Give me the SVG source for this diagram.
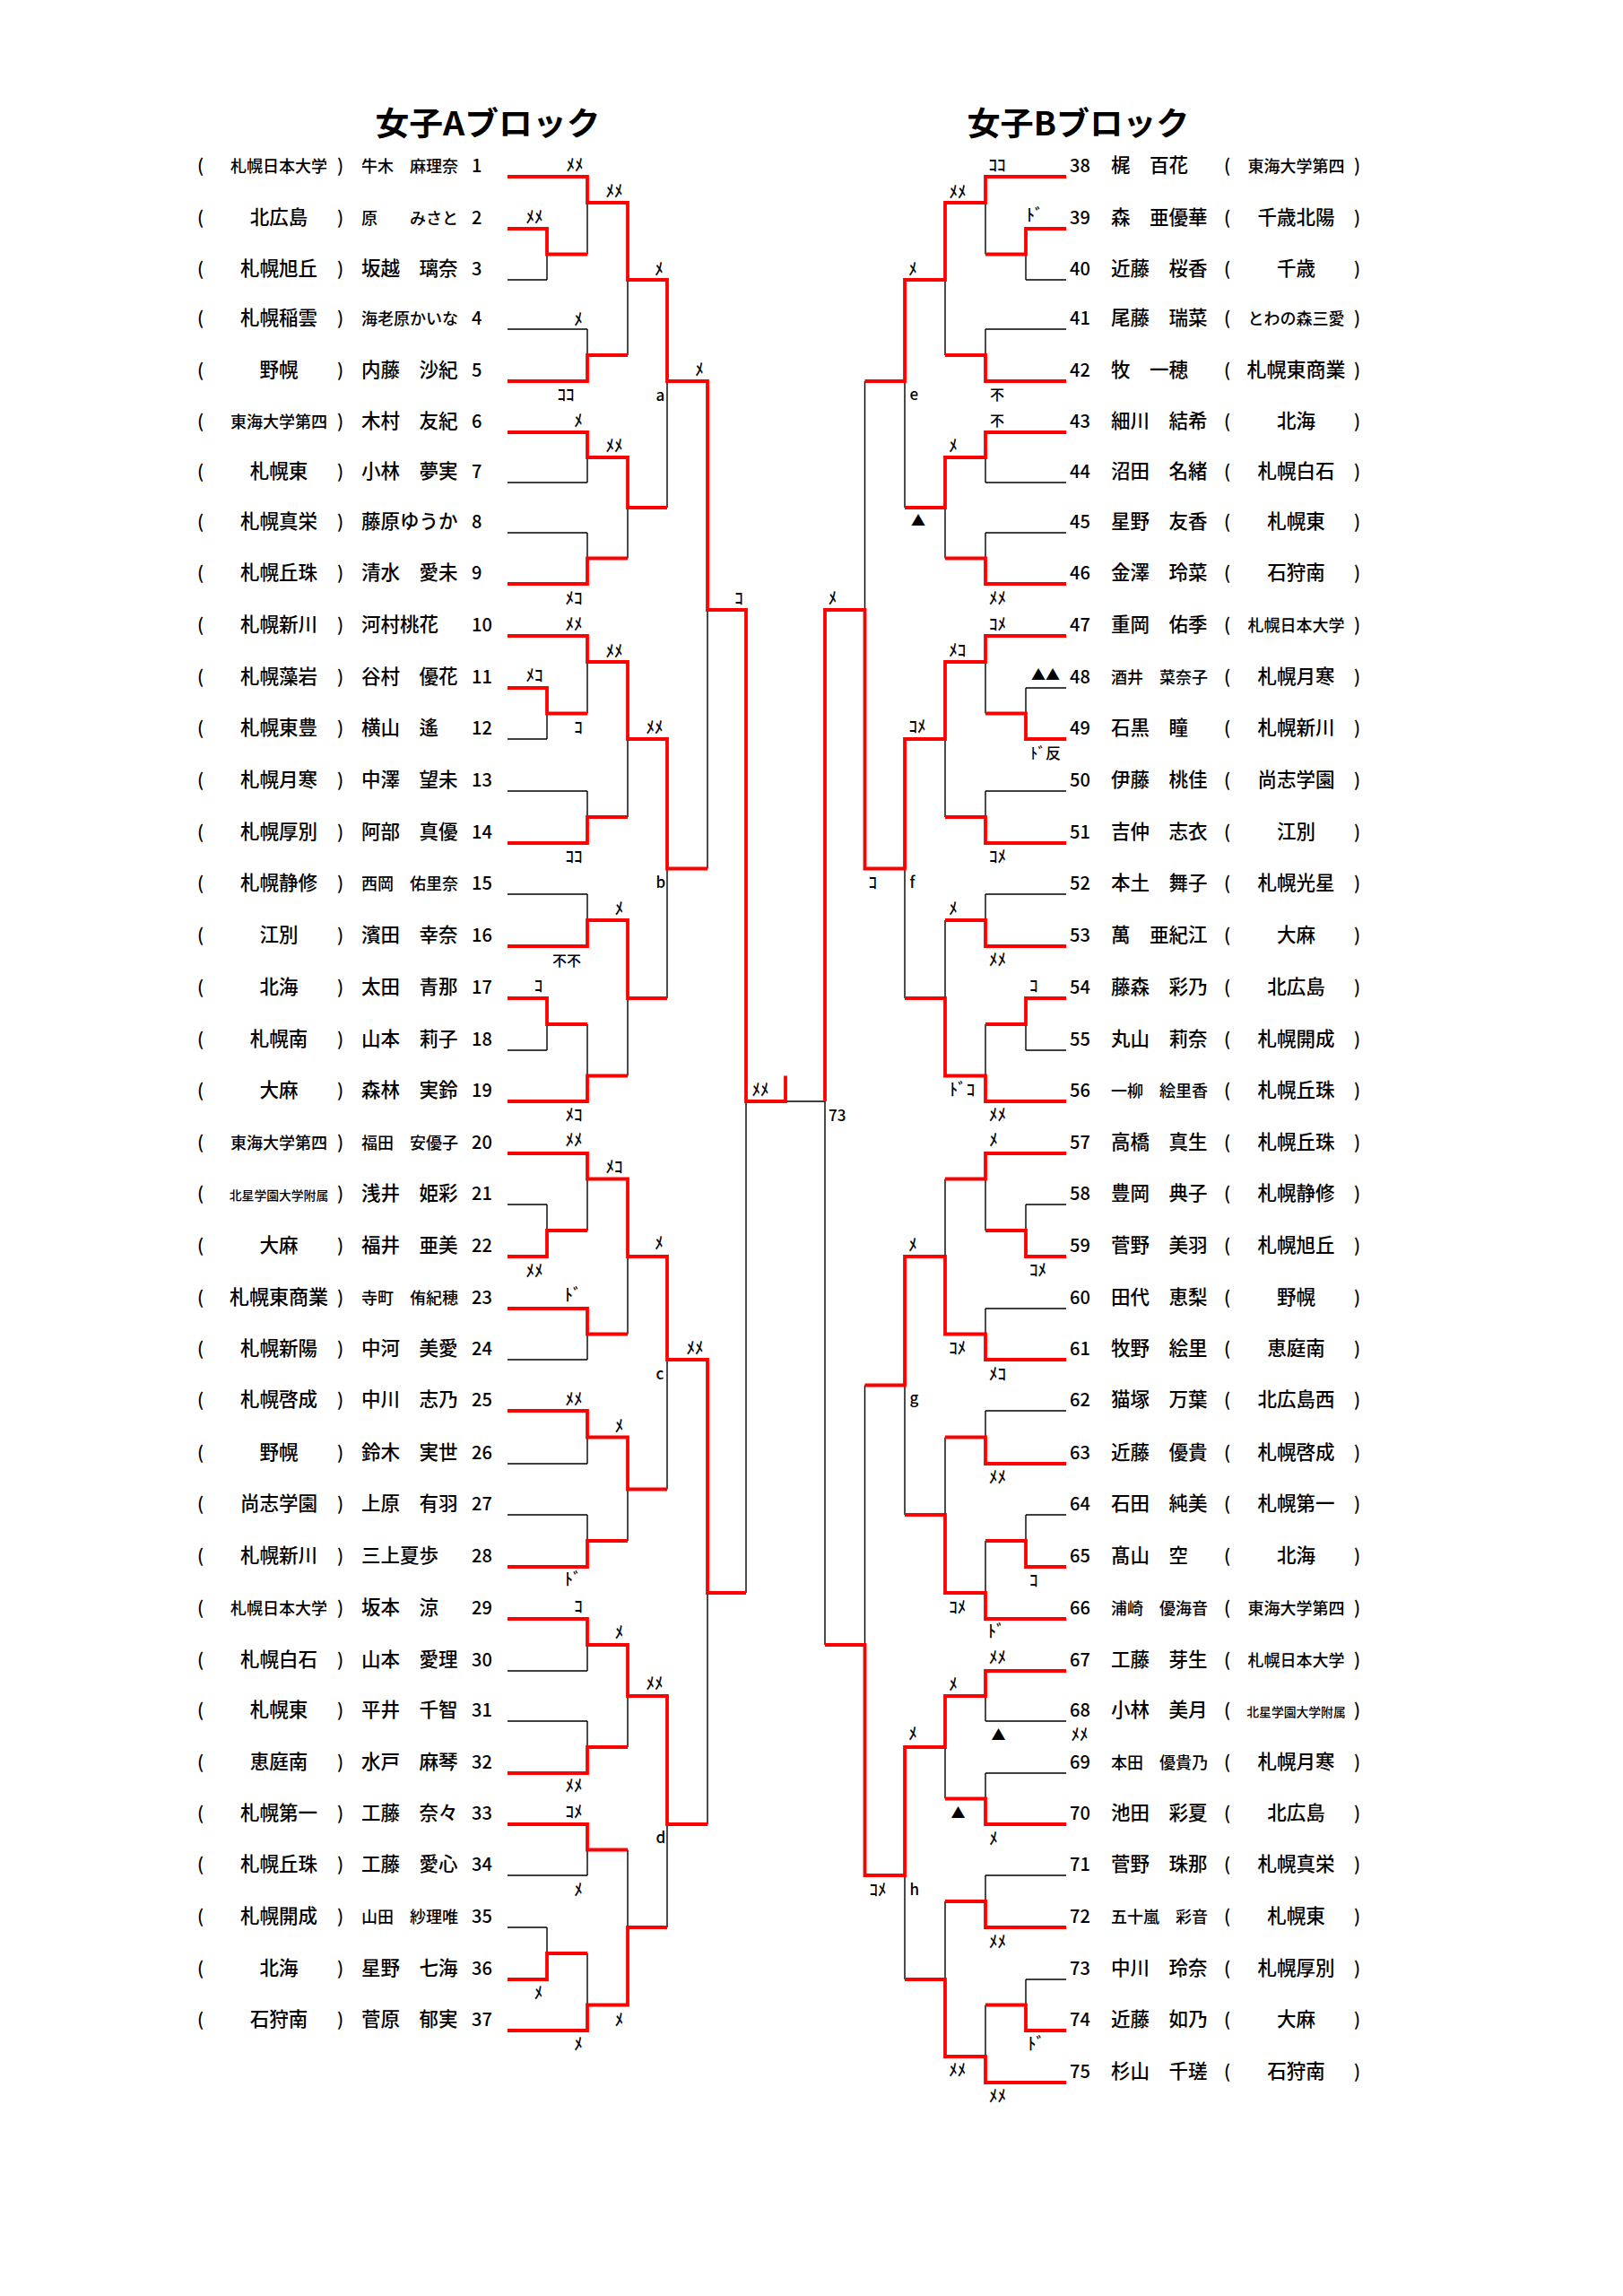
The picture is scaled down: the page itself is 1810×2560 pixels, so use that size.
<svg xmlns="http://www.w3.org/2000/svg" width="1810" height="2560" viewBox="0 0 1810 2560">
<style>
text{font-family:"Noto Sans CJK JP","Noto Sans CJK SC",sans-serif;font-size:21.5px;font-weight:500;fill:#000}
.b{font-size:18px}
.c{font-size:13.8px}
.d{font-size:22px}
.n,.p{font-size:20px}
.m{text-anchor:middle}
.l text{font-size:19px;text-anchor:middle}
.l text.s{font-size:16px}
.l text.s2{font-size:17px}
.lt text{font-size:17px}
.tt{font-size:36px;font-weight:700;text-anchor:middle}
.k{fill:none;stroke:#000;stroke-width:1.4}
.r{fill:none;stroke:#f00;stroke-width:3.8;stroke-linejoin:miter}
</style>
<rect width="1810" height="2560" fill="#fff"/>
<g id="titles">
<text class="tt" x="544" y="151" textLength="251" lengthAdjust="spacingAndGlyphs">女子Aブロック</text>
<text class="tt" x="1202.5" y="151" textLength="248" lengthAdjust="spacingAndGlyphs">女子Bブロック</text>
</g>
<g id="connectors">
<path class="k" d="M566 312H610M566 367H655M566 538H655M566 594H655M566 824H610M566 882H655M566 997H655M566 1171H610M566 1343H610M566 1516H655M566 1632H655M566 1689H655M566 1863H655M566 1919H655M566 2091H655M566 2149H610
M610 255V312M610 767V824M610 1113V1171M610 1343V1401M610 2149V2207
M655 197V283.5M655 367V425M655 482V538M655 594V651M655 709V795.5M655 882V940M655 997V1055M655 1142V1228M655 1286V1372M655 1459V1516M655 1573V1632M655 1689V1747M655 1805V1863M655 1919V1977M655 2034V2091M655 2178V2264
M700 226V396M700 510V622.5M700 738V911M700 1026V1199.5M700 1314.5V1487.5M700 1602.5V1718M700 1834V1948M700 2062.5V2235.5
M744 312V566M744 824V1113M744 1401V1660.5M744 1891V2149
M789 425V968.5M789 1516V2034
M832 680V1776M832 1228H920"/>
<path class="k" d="M1189 312H1144M1189 367H1099M1189 538H1099M1189 594H1099M1189 767H1144M1189 882H1099M1189 997H1099M1189 1171H1144M1189 1343H1144M1189 1459H1099M1189 1573H1099M1189 1689H1144M1189 1919H1099M1189 1977H1099M1189 2091H1099M1189 2207H1144
M1144 255V312M1144 767V824M1144 1113V1171M1144 1343V1401M1144 1689V1747M1144 2207V2264
M1099 197V283.5M1099 367V425M1099 482V538M1099 594V651M1099 709V795.5M1099 882V940M1099 997V1055M1099 1142V1228M1099 1286V1372M1099 1459V1516M1099 1573V1632M1099 1718V1805M1099 1863V1919M1099 1977V2034M1099 2091V2149M1099 2235.5V2322
M1054 226V396M1054 510V622.5M1054 738V911M1054 1026V1199.5M1054 1314.5V1487.5M1054 1602.5V1776M1054 1891V2005.5M1054 2120V2293
M1009 312V566M1009 824V1113M1009 1401V1689M1009 1948V2207
M964.5 425V968.5M964.5 1544.5V2091
M920 680V1834"/>
<path class="r" d="M566 197H655V226H700V312H744V425H789V680H832V1228H876V1199.5
M566 255H610V283.5H655
M566 425H655V396H700
M566 482H655V510H700V566H744
M566 651H655V622.5H700
M566 709H655V738H700V824H744V968.5H789
M566 767H610V795.5H655
M566 940H655V911H700
M566 1055H655V1026H700V1113H744
M566 1113H610V1142H655
M566 1228H655V1199.5H700
M566 1286H655V1314.5H700V1401H744V1516H789V1776H832
M566 1401H610V1372H655
M566 1459H655V1487.5H700
M566 1573H655V1602.5H700V1660.5H744
M566 1747H655V1718H700
M566 1805H655V1834H700V1891H744V2034H789
M566 1977H655V1948H700
M566 2034H655V2062.5H700
M566 2207H610V2178H655
M566 2264H655V2235.5H700V2149H744"/>
<path class="r" d="M1189 197H1099V226H1054V312H1009V425H964.5
M1189 255H1144V283.5H1099
M1189 425H1099V396H1054
M1189 482H1099V510H1054V566H1009
M1189 651H1099V622.5H1054
M1189 709H1099V738H1054V824H1009V968.5H964.5V680H920V1228
M1189 824H1144V795.5H1099
M1189 940H1099V911H1054
M1189 1055H1099V1026H1054
M1189 1113H1144V1142H1099
M1189 1228H1099V1199.5H1054V1113H1009
M1189 1286H1099V1314.5H1054
M1189 1401H1144V1372H1099
M1189 1516H1099V1487.5H1054V1401H1009V1544.5H964.5
M1189 1632H1099V1602.5H1054
M1189 1747H1144V1718H1099
M1189 1805H1099V1776H1054V1689H1009
M1189 1863H1099V1891H1054V1948H1009V2091H964.5V1834H920
M1189 2034H1099V2005.5H1054
M1189 2149H1099V2120H1054
M1189 2264H1144V2235.5H1099
M1189 2322H1099V2293H1054V2207H1009"/>
</g>
<g id="labels" class="l">
<g transform="translate(0,1)">
<text x="641" y="190">ﾒﾒ</text><text x="685" y="219">ﾒﾒ</text><text x="596" y="248">ﾒﾒ</text><text x="735" y="306">ﾒ</text><text x="645" y="362">ﾒ</text><text x="631" y="446">ｺｺ</text><text x="780" y="418">ﾒ</text><text x="645" y="475">ﾒ</text><text x="685" y="503">ﾒﾒ</text>
<text x="640" y="673">ﾒｺ</text><text x="824" y="673">ｺ</text><text x="640" y="702">ﾒﾒ</text><text x="685" y="732">ﾒﾒ</text><text x="596" y="759">ﾒｺ</text><text x="645" y="817">ｺ</text><text x="730" y="817">ﾒﾒ</text><text x="640" y="961">ｺｺ</text><text x="690.5" y="1019">ﾒ</text><text x="600.5" y="1105">ｺ</text>
<text x="848" y="1221">ﾒﾒ</text><text x="640" y="1249">ﾒｺ</text><text x="640" y="1277">ﾒﾒ</text><text x="685" y="1307">ﾒｺ</text><text x="735" y="1392">ﾒ</text><text x="596" y="1423">ﾒﾒ</text><text x="639" y="1450">ﾄﾞ</text><text x="775" y="1509">ﾒﾒ</text><text x="640" y="1566">ﾒﾒ</text><text x="690.5" y="1596">ﾒ</text>
<text x="639" y="1767">ﾄﾞ</text><text x="645" y="1797">ｺ</text><text x="690.5" y="1826">ﾒ</text><text x="730" y="1883">ﾒﾒ</text><text x="640" y="1997">ﾒﾒ</text><text x="640" y="2026">ｺﾒ</text><text x="645" y="2113">ﾒ</text><text x="600.5" y="2228">ﾒ</text><text x="690.5" y="2258">ﾒ</text><text x="645" y="2285">ﾒ</text>
<text x="1112" y="190">ｺｺ</text><text x="1068" y="220">ﾒﾒ</text><text x="1154" y="246">ﾄﾞ</text><text x="1018" y="306">ﾒ</text><text x="1063" y="503">ﾒ</text>
<text x="1112.6" y="673">ﾒﾒ</text><text x="928.4" y="673">ﾒ</text><text x="1112.6" y="702">ｺﾒ</text><text x="1067.7" y="731">ﾒｺ</text><text x="1023" y="816">ｺﾒ</text><text x="1112.6" y="961">ｺﾒ</text><text x="973.3" y="990">ｺ</text><text x="1063" y="1019">ﾒ</text><text x="1112.6" y="1076">ﾒﾒ</text><text x="1152.7" y="1105">ｺ</text>
<text x="1073" y="1221">ﾄﾞｺ</text><text x="1112.6" y="1249">ﾒﾒ</text><text x="1108" y="1277">ﾒ</text><text x="1018" y="1394">ﾒ</text><text x="1157.5" y="1422">ｺﾒ</text><text x="1067.7" y="1509">ｺﾒ</text><text x="1112.6" y="1538">ﾒｺ</text>
<text x="1112.6" y="1653">ﾒﾒ</text><text x="1152.7" y="1768">ｺ</text><text x="1067.7" y="1798">ｺﾒ</text><text x="1111" y="1825">ﾄﾞ</text><text x="1112.6" y="1854">ﾒﾒ</text><text x="1063" y="1884">ﾒ</text><text x="1204" y="1940">ﾒﾒ</text><text x="1018" y="1939">ﾒ</text><text x="1108" y="2056">ﾒ</text>
<text x="979" y="2113">ｺﾒ</text><text x="1112.6" y="2171">ﾒﾒ</text><text x="1155.5" y="2285">ﾄﾞ</text><text x="1067.7" y="2314">ﾒﾒ</text><text x="1112.6" y="2343">ﾒﾒ</text>
</g>
<text class="s" x="632" y="1077">不不</text><text class="s" x="1112" y="446">不</text><text class="s" x="1112" y="475">不</text>
<text class="s" x="1024" y="586">▲</text><text class="s" x="1166" y="758">▲▲</text><text class="s2" x="1166" y="846">ﾄﾞ反</text><text class="s" x="1113.4" y="1940">▲</text><text class="s" x="1068.6" y="2027">▲</text>
</g>
<g id="round-letters" class="lt">
<text x="731.5" y="447">a</text><text x="731.5" y="990">b</text><text x="731.5" y="1538">c</text><text x="731.5" y="2055">d</text>
<text x="1014.5" y="446">e</text><text x="1014.5" y="990">f</text><text x="1014.5" y="1565">g</text><text x="1014.5" y="2113">h</text>
<text x="924" y="1250" class="n">73</text>
</g>
<g id="blockA">
<g id="n1" transform="translate(0,192)"><text x="220" class="p">(</text><text x="311" class="m b">札幌日本大学</text><text x="376" class="p">)</text><text x="403" class="b">牛木　麻理奈</text><text x="526" class="n">1</text></g>
<g id="n2" transform="translate(0,250)"><text x="220" class="p">(</text><text x="311" class="m">北広島</text><text x="376" class="p">)</text><text x="403" class="b">原　　みさと</text><text x="526" class="n">2</text></g>
<g id="n3" transform="translate(0,307)"><text x="220" class="p">(</text><text x="311" class="m">札幌旭丘</text><text x="376" class="p">)</text><text x="403">坂越　璃奈</text><text x="526" class="n">3</text></g>
<g id="n4" transform="translate(0,362)"><text x="220" class="p">(</text><text x="311" class="m">札幌稲雲</text><text x="376" class="p">)</text><text x="403" class="b">海老原かいな</text><text x="526" class="n">4</text></g>
<g id="n5" transform="translate(0,420)"><text x="220" class="p">(</text><text x="311" class="m">野幌</text><text x="376" class="p">)</text><text x="403">内藤　沙紀</text><text x="526" class="n">5</text></g>
<g id="n6" transform="translate(0,477)"><text x="220" class="p">(</text><text x="311" class="m b">東海大学第四</text><text x="376" class="p">)</text><text x="403">木村　友紀</text><text x="526" class="n">6</text></g>
<g id="n7" transform="translate(0,533)"><text x="220" class="p">(</text><text x="311" class="m">札幌東</text><text x="376" class="p">)</text><text x="403">小林　夢実</text><text x="526" class="n">7</text></g>
<g id="n8" transform="translate(0,589)"><text x="220" class="p">(</text><text x="311" class="m">札幌真栄</text><text x="376" class="p">)</text><text x="403">藤原ゆうか</text><text x="526" class="n">8</text></g>
<g id="n9" transform="translate(0,646)"><text x="220" class="p">(</text><text x="311" class="m">札幌丘珠</text><text x="376" class="p">)</text><text x="403">清水　愛未</text><text x="526" class="n">9</text></g>
<g id="n10" transform="translate(0,704)"><text x="220" class="p">(</text><text x="311" class="m">札幌新川</text><text x="376" class="p">)</text><text x="403">河村桃花</text><text x="526" class="n">10</text></g>
<g id="n11" transform="translate(0,762)"><text x="220" class="p">(</text><text x="311" class="m">札幌藻岩</text><text x="376" class="p">)</text><text x="403">谷村　優花</text><text x="526" class="n">11</text></g>
<g id="n12" transform="translate(0,819)"><text x="220" class="p">(</text><text x="311" class="m">札幌東豊</text><text x="376" class="p">)</text><text x="403">横山　遙</text><text x="526" class="n">12</text></g>
<g id="n13" transform="translate(0,877)"><text x="220" class="p">(</text><text x="311" class="m">札幌月寒</text><text x="376" class="p">)</text><text x="403">中澤　望未</text><text x="526" class="n">13</text></g>
<g id="n14" transform="translate(0,935)"><text x="220" class="p">(</text><text x="311" class="m">札幌厚別</text><text x="376" class="p">)</text><text x="403">阿部　真優</text><text x="526" class="n">14</text></g>
<g id="n15" transform="translate(0,992)"><text x="220" class="p">(</text><text x="311" class="m">札幌静修</text><text x="376" class="p">)</text><text x="403" class="b">西岡　佑里奈</text><text x="526" class="n">15</text></g>
<g id="n16" transform="translate(0,1050)"><text x="220" class="p">(</text><text x="311" class="m">江別</text><text x="376" class="p">)</text><text x="403">濱田　幸奈</text><text x="526" class="n">16</text></g>
<g id="n17" transform="translate(0,1108)"><text x="220" class="p">(</text><text x="311" class="m">北海</text><text x="376" class="p">)</text><text x="403">太田　青那</text><text x="526" class="n">17</text></g>
<g id="n18" transform="translate(0,1166)"><text x="220" class="p">(</text><text x="311" class="m">札幌南</text><text x="376" class="p">)</text><text x="403">山本　莉子</text><text x="526" class="n">18</text></g>
<g id="n19" transform="translate(0,1223)"><text x="220" class="p">(</text><text x="311" class="m">大麻</text><text x="376" class="p">)</text><text x="403">森林　実鈴</text><text x="526" class="n">19</text></g>
<g id="n20" transform="translate(0,1281)"><text x="220" class="p">(</text><text x="311" class="m b">東海大学第四</text><text x="376" class="p">)</text><text x="403" class="b">福田　安優子</text><text x="526" class="n">20</text></g>
<g id="n21" transform="translate(0,1338)"><text x="220" class="p">(</text><text x="311" class="m c">北星学園大学附属</text><text x="376" class="p">)</text><text x="403">浅井　姫彩</text><text x="526" class="n">21</text></g>
<g id="n22" transform="translate(0,1396)"><text x="220" class="p">(</text><text x="311" class="m">大麻</text><text x="376" class="p">)</text><text x="403">福井　亜美</text><text x="526" class="n">22</text></g>
<g id="n23" transform="translate(0,1454)"><text x="220" class="p">(</text><text x="311" class="m d">札幌東商業</text><text x="376" class="p">)</text><text x="403" class="b">寺町　侑紀穂</text><text x="526" class="n">23</text></g>
<g id="n24" transform="translate(0,1511)"><text x="220" class="p">(</text><text x="311" class="m">札幌新陽</text><text x="376" class="p">)</text><text x="403">中河　美愛</text><text x="526" class="n">24</text></g>
<g id="n25" transform="translate(0,1568)"><text x="220" class="p">(</text><text x="311" class="m">札幌啓成</text><text x="376" class="p">)</text><text x="403">中川　志乃</text><text x="526" class="n">25</text></g>
<g id="n26" transform="translate(0,1627)"><text x="220" class="p">(</text><text x="311" class="m">野幌</text><text x="376" class="p">)</text><text x="403">鈴木　実世</text><text x="526" class="n">26</text></g>
<g id="n27" transform="translate(0,1684)"><text x="220" class="p">(</text><text x="311" class="m">尚志学園</text><text x="376" class="p">)</text><text x="403">上原　有羽</text><text x="526" class="n">27</text></g>
<g id="n28" transform="translate(0,1742)"><text x="220" class="p">(</text><text x="311" class="m">札幌新川</text><text x="376" class="p">)</text><text x="403">三上夏歩</text><text x="526" class="n">28</text></g>
<g id="n29" transform="translate(0,1800)"><text x="220" class="p">(</text><text x="311" class="m b">札幌日本大学</text><text x="376" class="p">)</text><text x="403">坂本　涼</text><text x="526" class="n">29</text></g>
<g id="n30" transform="translate(0,1858)"><text x="220" class="p">(</text><text x="311" class="m">札幌白石</text><text x="376" class="p">)</text><text x="403">山本　愛理</text><text x="526" class="n">30</text></g>
<g id="n31" transform="translate(0,1914)"><text x="220" class="p">(</text><text x="311" class="m">札幌東</text><text x="376" class="p">)</text><text x="403">平井　千智</text><text x="526" class="n">31</text></g>
<g id="n32" transform="translate(0,1972)"><text x="220" class="p">(</text><text x="311" class="m">恵庭南</text><text x="376" class="p">)</text><text x="403">水戸　麻琴</text><text x="526" class="n">32</text></g>
<g id="n33" transform="translate(0,2029)"><text x="220" class="p">(</text><text x="311" class="m">札幌第一</text><text x="376" class="p">)</text><text x="403">工藤　奈々</text><text x="526" class="n">33</text></g>
<g id="n34" transform="translate(0,2086)"><text x="220" class="p">(</text><text x="311" class="m">札幌丘珠</text><text x="376" class="p">)</text><text x="403">工藤　愛心</text><text x="526" class="n">34</text></g>
<g id="n35" transform="translate(0,2144)"><text x="220" class="p">(</text><text x="311" class="m">札幌開成</text><text x="376" class="p">)</text><text x="403" class="b">山田　紗理唯</text><text x="526" class="n">35</text></g>
<g id="n36" transform="translate(0,2202)"><text x="220" class="p">(</text><text x="311" class="m">北海</text><text x="376" class="p">)</text><text x="403">星野　七海</text><text x="526" class="n">36</text></g>
<g id="n37" transform="translate(0,2259)"><text x="220" class="p">(</text><text x="311" class="m">石狩南</text><text x="376" class="p">)</text><text x="403">菅原　郁実</text><text x="526" class="n">37</text></g>
</g>
<g id="blockB">
<g id="n38" transform="translate(0,192)"><text x="1193" class="n">38</text><text x="1239">梶　百花</text><text x="1365" class="p">(</text><text x="1445.5" class="m b">東海大学第四</text><text x="1510" class="p">)</text></g>
<g id="n39" transform="translate(0,250)"><text x="1193" class="n">39</text><text x="1239">森　亜優華</text><text x="1365" class="p">(</text><text x="1445.5" class="m">千歳北陽</text><text x="1510" class="p">)</text></g>
<g id="n40" transform="translate(0,307)"><text x="1193" class="n">40</text><text x="1239">近藤　桜香</text><text x="1365" class="p">(</text><text x="1445.5" class="m">千歳</text><text x="1510" class="p">)</text></g>
<g id="n41" transform="translate(0,362)"><text x="1193" class="n">41</text><text x="1239">尾藤　瑞菜</text><text x="1365" class="p">(</text><text x="1445.5" class="m b">とわの森三愛</text><text x="1510" class="p">)</text></g>
<g id="n42" transform="translate(0,420)"><text x="1193" class="n">42</text><text x="1239">牧　一穂</text><text x="1365" class="p">(</text><text x="1445.5" class="m d">札幌東商業</text><text x="1510" class="p">)</text></g>
<g id="n43" transform="translate(0,477)"><text x="1193" class="n">43</text><text x="1239">細川　結希</text><text x="1365" class="p">(</text><text x="1445.5" class="m">北海</text><text x="1510" class="p">)</text></g>
<g id="n44" transform="translate(0,533)"><text x="1193" class="n">44</text><text x="1239">沼田　名緒</text><text x="1365" class="p">(</text><text x="1445.5" class="m">札幌白石</text><text x="1510" class="p">)</text></g>
<g id="n45" transform="translate(0,589)"><text x="1193" class="n">45</text><text x="1239">星野　友香</text><text x="1365" class="p">(</text><text x="1445.5" class="m">札幌東</text><text x="1510" class="p">)</text></g>
<g id="n46" transform="translate(0,646)"><text x="1193" class="n">46</text><text x="1239">金澤　玲菜</text><text x="1365" class="p">(</text><text x="1445.5" class="m">石狩南</text><text x="1510" class="p">)</text></g>
<g id="n47" transform="translate(0,704)"><text x="1193" class="n">47</text><text x="1239">重岡　佑季</text><text x="1365" class="p">(</text><text x="1445.5" class="m b">札幌日本大学</text><text x="1510" class="p">)</text></g>
<g id="n48" transform="translate(0,762)"><text x="1193" class="n">48</text><text x="1239" class="b">酒井　菜奈子</text><text x="1365" class="p">(</text><text x="1445.5" class="m">札幌月寒</text><text x="1510" class="p">)</text></g>
<g id="n49" transform="translate(0,819)"><text x="1193" class="n">49</text><text x="1239">石黒　瞳</text><text x="1365" class="p">(</text><text x="1445.5" class="m">札幌新川</text><text x="1510" class="p">)</text></g>
<g id="n50" transform="translate(0,877)"><text x="1193" class="n">50</text><text x="1239">伊藤　桃佳</text><text x="1365" class="p">(</text><text x="1445.5" class="m">尚志学園</text><text x="1510" class="p">)</text></g>
<g id="n51" transform="translate(0,935)"><text x="1193" class="n">51</text><text x="1239">吉仲　志衣</text><text x="1365" class="p">(</text><text x="1445.5" class="m">江別</text><text x="1510" class="p">)</text></g>
<g id="n52" transform="translate(0,992)"><text x="1193" class="n">52</text><text x="1239">本土　舞子</text><text x="1365" class="p">(</text><text x="1445.5" class="m">札幌光星</text><text x="1510" class="p">)</text></g>
<g id="n53" transform="translate(0,1050)"><text x="1193" class="n">53</text><text x="1239">萬　亜紀江</text><text x="1365" class="p">(</text><text x="1445.5" class="m">大麻</text><text x="1510" class="p">)</text></g>
<g id="n54" transform="translate(0,1108)"><text x="1193" class="n">54</text><text x="1239">藤森　彩乃</text><text x="1365" class="p">(</text><text x="1445.5" class="m">北広島</text><text x="1510" class="p">)</text></g>
<g id="n55" transform="translate(0,1166)"><text x="1193" class="n">55</text><text x="1239">丸山　莉奈</text><text x="1365" class="p">(</text><text x="1445.5" class="m">札幌開成</text><text x="1510" class="p">)</text></g>
<g id="n56" transform="translate(0,1223)"><text x="1193" class="n">56</text><text x="1239" class="b">一柳　絵里香</text><text x="1365" class="p">(</text><text x="1445.5" class="m">札幌丘珠</text><text x="1510" class="p">)</text></g>
<g id="n57" transform="translate(0,1281)"><text x="1193" class="n">57</text><text x="1239">高橋　真生</text><text x="1365" class="p">(</text><text x="1445.5" class="m">札幌丘珠</text><text x="1510" class="p">)</text></g>
<g id="n58" transform="translate(0,1338)"><text x="1193" class="n">58</text><text x="1239">豊岡　典子</text><text x="1365" class="p">(</text><text x="1445.5" class="m">札幌静修</text><text x="1510" class="p">)</text></g>
<g id="n59" transform="translate(0,1396)"><text x="1193" class="n">59</text><text x="1239">菅野　美羽</text><text x="1365" class="p">(</text><text x="1445.5" class="m">札幌旭丘</text><text x="1510" class="p">)</text></g>
<g id="n60" transform="translate(0,1454)"><text x="1193" class="n">60</text><text x="1239">田代　恵梨</text><text x="1365" class="p">(</text><text x="1445.5" class="m">野幌</text><text x="1510" class="p">)</text></g>
<g id="n61" transform="translate(0,1511)"><text x="1193" class="n">61</text><text x="1239">牧野　絵里</text><text x="1365" class="p">(</text><text x="1445.5" class="m">恵庭南</text><text x="1510" class="p">)</text></g>
<g id="n62" transform="translate(0,1568)"><text x="1193" class="n">62</text><text x="1239">猫塚　万葉</text><text x="1365" class="p">(</text><text x="1445.5" class="m">北広島西</text><text x="1510" class="p">)</text></g>
<g id="n63" transform="translate(0,1627)"><text x="1193" class="n">63</text><text x="1239">近藤　優貴</text><text x="1365" class="p">(</text><text x="1445.5" class="m">札幌啓成</text><text x="1510" class="p">)</text></g>
<g id="n64" transform="translate(0,1684)"><text x="1193" class="n">64</text><text x="1239">石田　純美</text><text x="1365" class="p">(</text><text x="1445.5" class="m">札幌第一</text><text x="1510" class="p">)</text></g>
<g id="n65" transform="translate(0,1742)"><text x="1193" class="n">65</text><text x="1239">髙山　空</text><text x="1365" class="p">(</text><text x="1445.5" class="m">北海</text><text x="1510" class="p">)</text></g>
<g id="n66" transform="translate(0,1800)"><text x="1193" class="n">66</text><text x="1239" class="b">浦崎　優海音</text><text x="1365" class="p">(</text><text x="1445.5" class="m b">東海大学第四</text><text x="1510" class="p">)</text></g>
<g id="n67" transform="translate(0,1858)"><text x="1193" class="n">67</text><text x="1239">工藤　芽生</text><text x="1365" class="p">(</text><text x="1445.5" class="m b">札幌日本大学</text><text x="1510" class="p">)</text></g>
<g id="n68" transform="translate(0,1914)"><text x="1193" class="n">68</text><text x="1239">小林　美月</text><text x="1365" class="p">(</text><text x="1445.5" class="m c">北星学園大学附属</text><text x="1510" class="p">)</text></g>
<g id="n69" transform="translate(0,1972)"><text x="1193" class="n">69</text><text x="1239" class="b">本田　優貴乃</text><text x="1365" class="p">(</text><text x="1445.5" class="m">札幌月寒</text><text x="1510" class="p">)</text></g>
<g id="n70" transform="translate(0,2029)"><text x="1193" class="n">70</text><text x="1239">池田　彩夏</text><text x="1365" class="p">(</text><text x="1445.5" class="m">北広島</text><text x="1510" class="p">)</text></g>
<g id="n71" transform="translate(0,2086)"><text x="1193" class="n">71</text><text x="1239">菅野　珠那</text><text x="1365" class="p">(</text><text x="1445.5" class="m">札幌真栄</text><text x="1510" class="p">)</text></g>
<g id="n72" transform="translate(0,2144)"><text x="1193" class="n">72</text><text x="1239" class="b">五十嵐　彩音</text><text x="1365" class="p">(</text><text x="1445.5" class="m">札幌東</text><text x="1510" class="p">)</text></g>
<g id="n73" transform="translate(0,2202)"><text x="1193" class="n">73</text><text x="1239">中川　玲奈</text><text x="1365" class="p">(</text><text x="1445.5" class="m">札幌厚別</text><text x="1510" class="p">)</text></g>
<g id="n74" transform="translate(0,2259)"><text x="1193" class="n">74</text><text x="1239">近藤　如乃</text><text x="1365" class="p">(</text><text x="1445.5" class="m">大麻</text><text x="1510" class="p">)</text></g>
<g id="n75" transform="translate(0,2317)"><text x="1193" class="n">75</text><text x="1239">杉山　千瑳</text><text x="1365" class="p">(</text><text x="1445.5" class="m">石狩南</text><text x="1510" class="p">)</text></g>
</g>
</svg>
